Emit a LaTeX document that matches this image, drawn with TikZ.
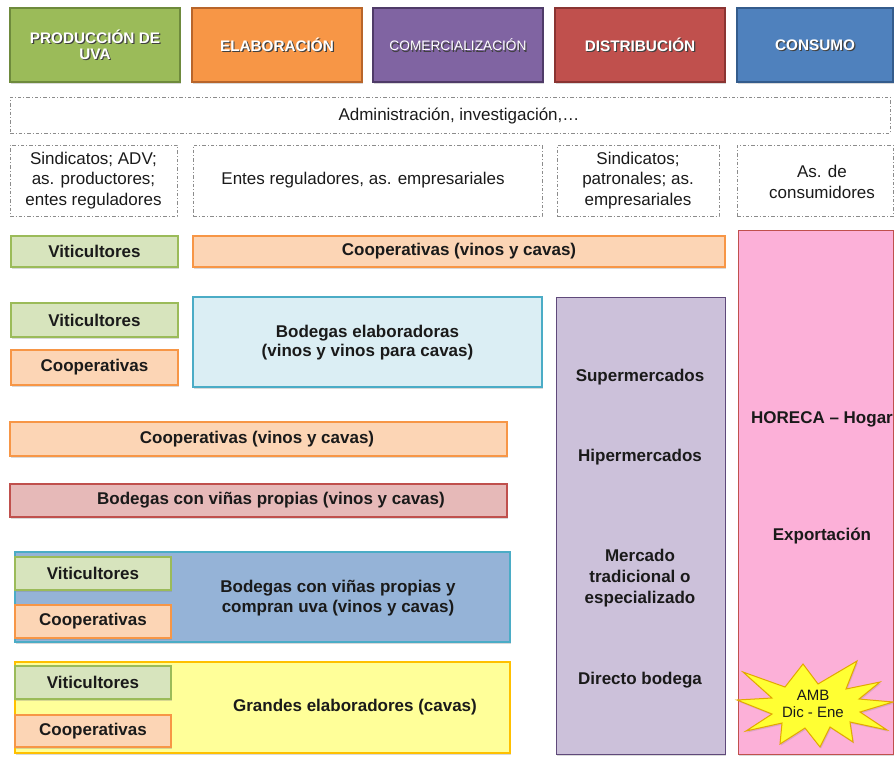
\documentclass[tikz,border=0pt]{standalone}
\usepackage{fontspec}
\setmainfont{Liberation Sans}
\usetikzlibrary{shadows}
\definecolor{txt}{HTML}{1A1A1A}
\definecolor{hgreen}{HTML}{9BBB59}\definecolor{hgreenD}{HTML}{6E8A3C}
\definecolor{horange}{HTML}{F79646}\definecolor{horangeD}{HTML}{B8652A}
\definecolor{hpurple}{HTML}{8064A2}\definecolor{hpurpleD}{HTML}{4F3B68}
\definecolor{hred}{HTML}{C0504D}\definecolor{hredD}{HTML}{8A3432}
\definecolor{hblue}{HTML}{4F81BD}\definecolor{hblueD}{HTML}{345C8C}
\definecolor{lgreen}{HTML}{D7E4BD}\definecolor{lgreenD}{HTML}{9BBB59}
\definecolor{lorange}{HTML}{FCD5B5}\definecolor{lorangeD}{HTML}{F79646}
\definecolor{lblue}{HTML}{DBEEF4}\definecolor{lblueD}{HTML}{4BACC6}
\definecolor{lred}{HTML}{E6B9B8}\definecolor{lredD}{HTML}{C0504D}
\definecolor{mblue}{HTML}{95B3D7}\definecolor{mblueD}{HTML}{4BACC6}
\definecolor{lyellow}{HTML}{FFFF99}\definecolor{lyellowD}{HTML}{FFC000}
\definecolor{lpurple}{HTML}{CCC1DA}\definecolor{lpurpleD}{HTML}{5F497A}
\definecolor{lpink}{HTML}{FCB0D8}\definecolor{lpinkD}{HTML}{C0504D}
\definecolor{staryel}{HTML}{FFFF33}\definecolor{staryelD}{HTML}{E3A800}
\definecolor{dashgray}{HTML}{8C8C8C}
\tikzset{
  box/.style={rectangle, inner sep=0pt, line width=1.4pt,
    drop shadow={shadow xshift=1.2pt, shadow yshift=-1.8pt, opacity=0.3}},
  colbox/.style 2 args={box, fill=#1, draw=#2},
  dashbox/.style={rectangle, inner sep=0pt, draw=dashgray, line width=0.9pt,
    dash pattern=on 3.5pt off 2pt on 1pt off 2pt},
  bl/.style={font=\fontsize{17}{20.5}\selectfont\bfseries, text=txt, align=center, inner sep=0pt},
  rl/.style={font=\fontsize{17}{20.5}\selectfont, text=txt, align=center, inner sep=0pt},
  hdrtxt/.style={font=\fontsize{15.3}{16}\selectfont\bfseries, text=white, align=center, inner sep=0pt},
  hdrshd/.style={font=\fontsize{15.3}{16}\selectfont\bfseries, text=black!75, align=center, inner sep=0pt},
  hdrtxtr/.style={font=\fontsize{13.7}{15}\selectfont, text=white, align=center, inner sep=0pt},
  hdrshdr/.style={font=\fontsize{13.7}{15}\selectfont, text=black!75, align=center, inner sep=0pt},
}
\begin{document}
\begin{tikzpicture}[x=1pt,y=-1pt]
\useasboundingbox (0,0) rectangle (894,756);
% ---------- header boxes ----------
\node[colbox={hgreen}{hgreenD}, minimum width=170pt, minimum height=74pt] (h1) at (95,45) {};
\node[colbox={horange}{horangeD}, minimum width=170pt, minimum height=74pt] (h2) at (277,45) {};
\node[colbox={hpurple}{hpurpleD}, minimum width=170pt, minimum height=74pt] (h3) at (458,45) {};
\node[colbox={hred}{hredD}, minimum width=170pt, minimum height=74pt] (h4) at (640,45) {};
\node[colbox={hblue}{hblueD}, minimum width=156pt, minimum height=74pt] (h5) at (815,45) {};
\node[hdrshd] (h1s) at ([xshift=1.2pt,yshift=-1.2pt]h1.center) {PRODUCCIÓN DE\\UVA};
\node[hdrtxt] (h1t) at (h1.center) {PRODUCCIÓN DE\\UVA};
\node[hdrshd] (h2s) at ([xshift=1.2pt,yshift=-1.2pt]h2.center) {ELABORACIÓN};
\node[hdrtxt] (h2t) at (h2.center) {ELABORACIÓN};
\node[hdrshdr] (h3s) at ([xshift=1.2pt,yshift=-1.2pt]h3.center) {COMERCIALIZACIÓN};
\node[hdrtxtr] (h3t) at (h3.center) {COMERCIALIZACIÓN};
\node[hdrshd] (h4s) at ([xshift=1.2pt,yshift=-1.2pt]h4.center) {DISTRIBUCIÓN};
\node[hdrtxt] (h4t) at (h4.center) {DISTRIBUCIÓN};
\node[hdrshd] (h5s) at ([xshift=1.2pt,yshift=-1.2pt]h5.center) {CONSUMO};
\node[hdrtxt] (h5t) at (h5.center) {CONSUMO};
% ---------- dashed boxes ----------
\node[dashbox, minimum width=880pt, minimum height=36pt] (adm) at (450,115) {};
\node[rl] (admt) at (459,116) {Administración, investigación,…};
\node[dashbox, minimum width=167pt, minimum height=71pt] (d1) at (93.5,180.5) {};
\node[rl] (d1t) at (d1.center) {Sindicatos; ADV;\\as. productores;\\entes reguladores};
\node[dashbox, minimum width=349pt, minimum height=71pt] (d2) at (367.5,180.5) {};
\node[rl] (d2t) at (363,180.5) {Entes reguladores, as. empresariales};
\node[dashbox, minimum width=162pt, minimum height=71pt] (d3) at (638,180.5) {};
\node[rl] (d3t) at (d3.center) {Sindicatos;\\patronales; as.\\empresariales};
\node[dashbox, minimum width=156pt, minimum height=71pt] (d4) at (815,180.5) {};
\node[rl] (d4t) at (822,182) {As. de\\consumidores};
% ---------- consumption and distribution columns ----------
\node[colbox={lpink}{lpinkD}, line width=0.9pt, minimum width=155pt, minimum height=524pt] (pink) at (815.5,492) {};
\node[colbox={lpurple}{lpurpleD}, line width=1pt, minimum width=169pt, minimum height=457pt] (purp) at (640.5,525.5) {};
\node[bl] (sup) at (640,377) {Supermercados};
\node[bl] (hip) at (640,457) {Hipermercados};
\node[bl, font=\fontsize{17}{21}\selectfont\bfseries] (mer) at (640,578) {Mercado\\tradicional o\\especializado};
\node[bl] (dir) at (640,680) {Directo bodega};
\node[bl] (hor) at (822,419) {HORECA – Hogar};
\node[bl] (exp) at (822,536) {Exportación};
% ---------- row 1 ----------
\node[colbox={lgreen}{lgreenD}, minimum width=167pt, minimum height=31pt] (v1) at (94.5,251.5) {};
\node[bl] (v1t) at (v1.center) {Viticultores};
\node[colbox={lorange}{lorangeD}, minimum width=532pt, minimum height=31pt] (c1) at (459,251.5) {};
\node[bl] (c1t) at (c1.center) {Cooperativas (vinos y cavas)};
% ---------- row 2 ----------
\node[colbox={lgreen}{lgreenD}, minimum width=167pt, minimum height=34pt] (v2) at (94.5,320) {};
\node[bl] (v2t) at (v2.center) {Viticultores};
\node[colbox={lorange}{lorangeD}, minimum width=167pt, minimum height=35pt] (c2) at (94.5,367.5) {};
\node[bl] (c2t) at (c2.center) {Cooperativas};
\node[colbox={lblue}{lblueD}, minimum width=349pt, minimum height=90pt] (be) at (367.5,342) {};
\node[bl, font=\fontsize{17}{19}\selectfont\bfseries] (bet) at (367.5,343) {Bodegas elaboradoras\\(vinos y vinos para cavas)};
% ---------- row 3, 4 ----------
\node[colbox={lorange}{lorangeD}, minimum width=497pt, minimum height=34pt] (c3) at (258.5,439) {};
\node[bl] (c3t) at (257,439) {Cooperativas (vinos y cavas)};
\node[colbox={lred}{lredD}, minimum width=497pt, minimum height=33pt] (r4) at (258.5,500.5) {};
\node[bl] (r4t) at (271,500.5) {Bodegas con viñas propias (vinos y cavas)};
% ---------- row 5 ----------
\node[colbox={mblue}{mblueD}, minimum width=495pt, minimum height=90pt] (b5) at (262.5,597) {};
\node[colbox={lgreen}{lgreenD}, minimum width=156pt, minimum height=33pt] (v5) at (93,573.5) {};
\node[bl] (v5t) at (v5.center) {Viticultores};
\node[colbox={lorange}{lorangeD}, minimum width=156pt, minimum height=33pt] (c5) at (93,621.5) {};
\node[bl] (c5t) at (c5.center) {Cooperativas};
\node[bl] (b5t) at (338,598) {Bodegas con viñas propias y\\compran uva (vinos y cavas)};
% ---------- row 6 ----------
\node[colbox={lyellow}{lyellowD}, minimum width=495pt, minimum height=91pt] (y6) at (262.5,707.5) {};
\node[colbox={lgreen}{lgreenD}, minimum width=156pt, minimum height=33pt] (v6) at (93,682.5) {};
\node[bl] (v6t) at (v6.center) {Viticultores};
\node[colbox={lorange}{lorangeD}, minimum width=156pt, minimum height=32pt] (c6) at (93,731) {};
\node[bl] (c6t) at (c6.center) {Cooperativas};
\node[bl] (y6t) at (355,707) {Grandes elaboradores (cavas)};
% ---------- starburst ----------
\draw[fill=staryel, draw=staryelD, line width=1pt, line join=miter,
      drop shadow={shadow xshift=1pt, shadow yshift=-1.5pt, opacity=0.25}]
  (893,702) -- (860,712) -- (887,730) -- (850,722) -- (853,742) -- (830,727)
  -- (820,747) -- (805,728) -- (780,744) -- (782,723) -- (746,731) -- (772,714)
  -- (737,700) -- (772,698) -- (743,672) -- (785,687) -- (803,664) -- (818,684)
  -- (857,661) -- (846,689) -- (880,682) -- (859,699) -- cycle;
\node[font=\fontsize{15}{17}\selectfont, text=txt, align=center, inner sep=0pt] (amb) at (813,704) {AMB\\Dic - Ene};
\end{tikzpicture}
\end{document}
